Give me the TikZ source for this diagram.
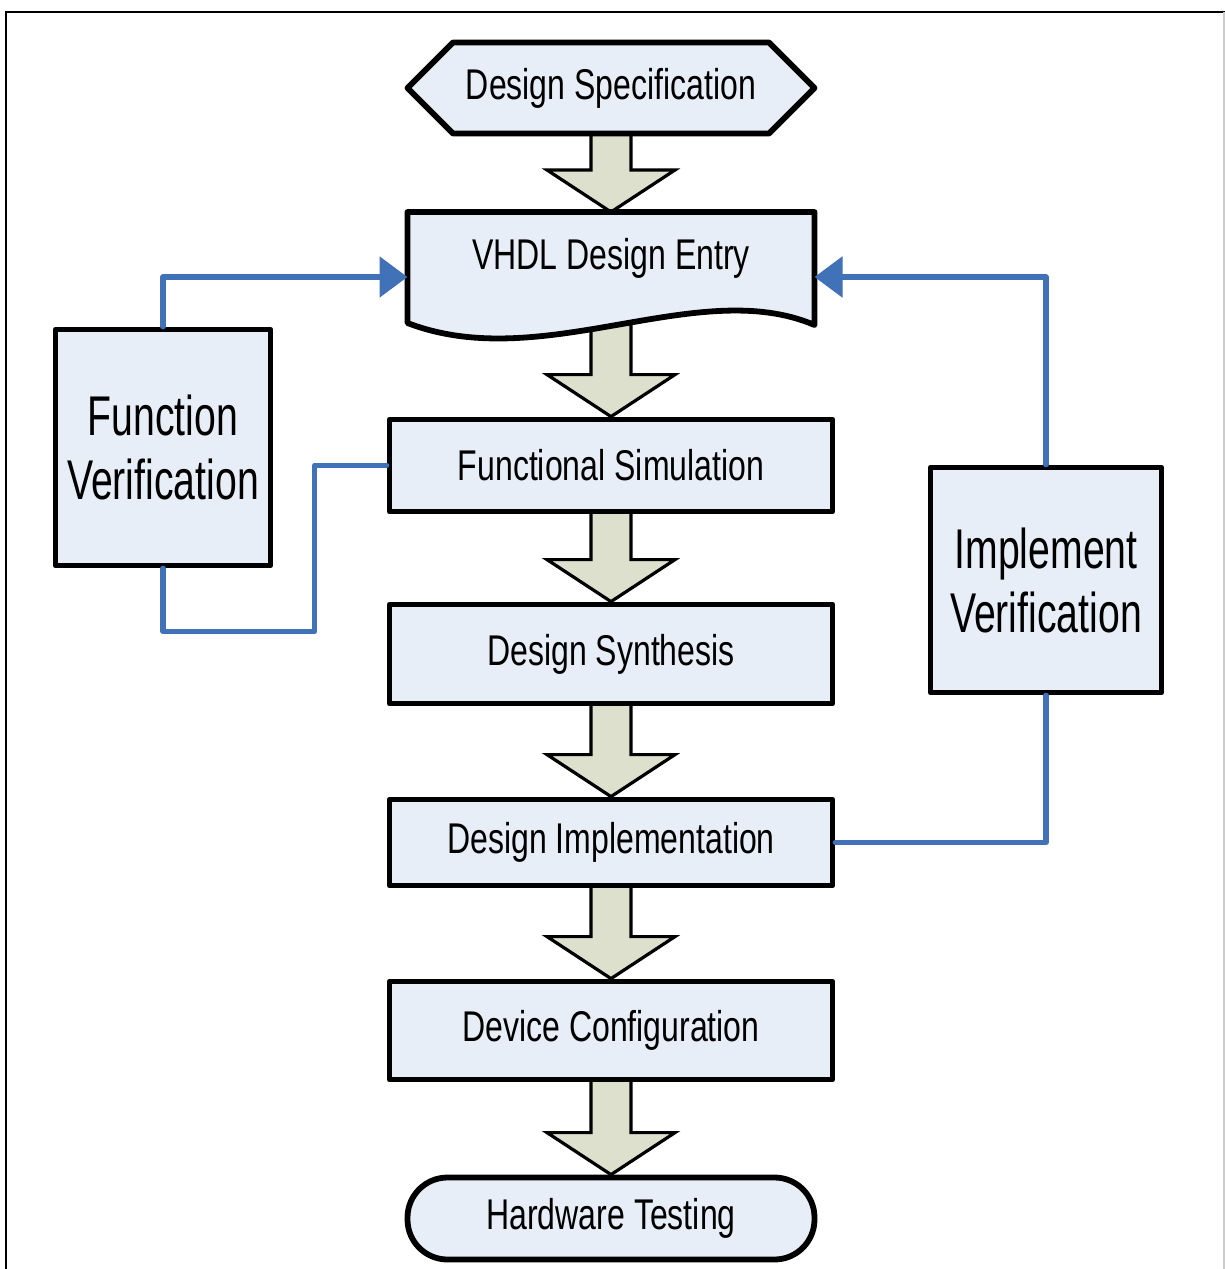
\documentclass[tikz,border=0pt]{standalone}
\usepackage{fontspec}
\setmainfont{Liberation Sans}[FakeStretch=0.745]
\newfontfamily\bigfont{Liberation Sans}[FakeStretch=0.70]
\usetikzlibrary{shapes.symbols,arrows.meta,calc,backgrounds}

\definecolor{boxfill}{RGB}{232,238,247}
\definecolor{arrowfill}{RGB}{221,224,204}
\definecolor{loopblue}{RGB}{65,113,182}

\tikzset{
  stepbox/.style={draw, line width=2.9pt, line join=round, fill=boxfill,
    minimum width=221.5pt, inner sep=0pt, font=\fontsize{21.5}{26}\selectfont},
  checkbox/.style={draw, line width=2.9pt, line join=round, fill=boxfill,
    inner sep=0pt, align=center, font=\bigfont\fontsize{28}{32}\selectfont},
  loopline/.style={draw=loopblue, line width=2.7pt, line cap=round, line join=round},
  looptip/.style={-{Triangle[length=14pt,width=20pt]}},
  flowarrow/.style={draw, line width=1.6pt, line join=miter, fill=arrowfill}
}

% block arrow from one step down to the next
\newcommand{\flowstep}[2]{%
  \path[flowarrow] let \p1=(#1.center), \p2=(#2.north) in
    (\x1-10pt,\y1) -- (\x1+10pt,\y1) -- (\x1+10pt,\y2+21pt) -- (\x1+32pt,\y2+21pt)
    -- (\x1,\y2) -- (\x1-32pt,\y2+21pt) -- (\x1-10pt,\y2+21pt) -- cycle;}

\begin{document}
\begin{tikzpicture}[x=0.5pt, y=-0.5pt]
    \useasboundingbox (0,0) rectangle (1225,1269);

    % Frame
    \draw[line width=1.2pt] (6,1269) -- (6,12) -- (1225,12);
    \draw[black!20, line width=1pt] (1223.5,12) -- (1223.5,1269);

    % Design flow
    \node[stepbox, signal, signal to=west and east, signal from=nowhere, signal pointer angle=90,
          minimum width=203.5pt, minimum height=45.5pt] (spec) at (611,88) {Design Specification};
    \node[draw=none, minimum width=203.5pt, minimum height=65pt, outer sep=0pt] (entry) at (611,277) {};
    \draw[line width=2.9pt, line join=round, fill=boxfill] (entry.north west) -- (entry.north east)
        -- ([yshift=-24pt]entry.east) .. controls +(-117,-50) and +(135,52) .. ([yshift=-23pt]entry.west) -- cycle;
    \node[font=\fontsize{21.5}{26}\selectfont] (entrytext) at ([yshift=9.5pt]entry.center) {VHDL Design Entry};
    \node[stepbox, minimum height=46pt] (funcsim) at (611,465.5) {Functional Simulation};
    \node[stepbox, minimum height=49.5pt] (synth) at (611,654) {Design Synthesis};
    \node[stepbox, minimum height=43pt] (impl) at (611,842.5) {Design Implementation};
    \node[stepbox, minimum height=49pt] (config) at (611,1030.5) {Device Configuration};
    \node[stepbox, minimum width=203.5pt, minimum height=41pt, rounded corners=20pt] (test) at (611,1218.5) {Hardware Testing};

    % Verification loops
    \node[checkbox, minimum width=107.5pt, minimum height=118pt] (funcver) at (163,447.5) {Function\\Verification};
    \node[checkbox, minimum width=115.5pt, minimum height=112.5pt] (implver) at (1046,580) {Implement\\Verification};

    \begin{scope}[on background layer]
    \foreach \a/\b in {spec/entry, entry/funcsim, funcsim/synth, synth/impl, impl/config, config/test}
        \flowstep{\a}{\b};
    \end{scope}

    \draw[loopline, looptip] (funcver.north) |- (entry.west);
    \draw[loopline] (funcver.south) -- ++(0,63) -| ([xshift=-36pt]funcsim.west) -- (funcsim.west);
    \draw[loopline, looptip] (implver.north) |- (entry.east);
    \draw[loopline] (implver.south) |- (impl.east);
\end{tikzpicture}
\end{document}
